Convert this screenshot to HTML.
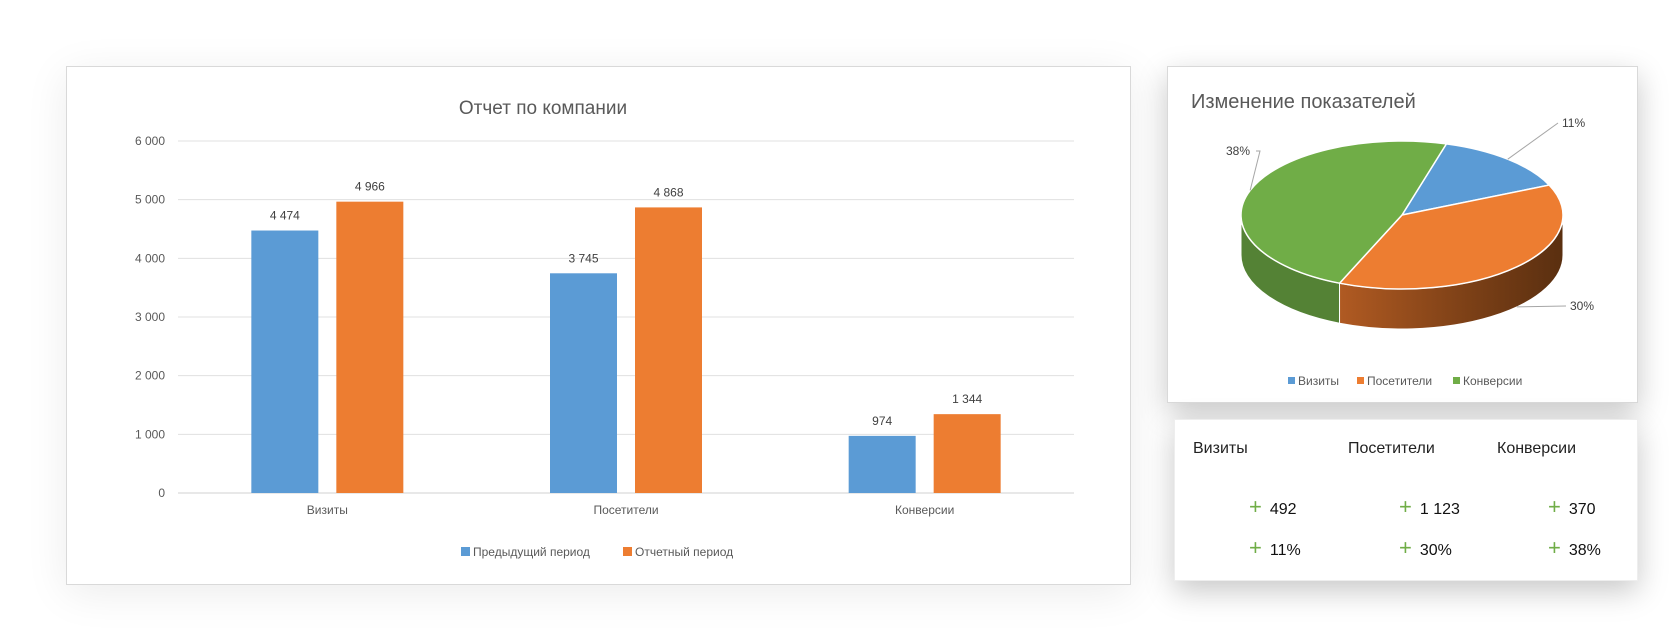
<!DOCTYPE html>
<html><head><meta charset="utf-8"><style>
html,body{margin:0;padding:0;background:#fff;width:1680px;height:640px;overflow:hidden;font-family:"Liberation Sans",sans-serif}
.panel{position:absolute;background:#fff;border:1px solid #d9d9d9;box-shadow:0 10px 28px rgba(0,0,0,0.22)}
svg text{font-family:"Liberation Sans",sans-serif}
.cell{position:absolute;font-size:16px;color:#111;white-space:nowrap}
.cell span{color:#70ad47;font-size:22px;margin-right:8px}
</style></head><body>
<div class="panel" style="left:66px;top:66px;width:1063px;height:517px;box-shadow:0 8px 40px rgba(0,0,0,0.08)"></div>
<div class="panel" style="left:1167px;top:66px;width:469px;height:335px"></div>
<div class="panel" style="left:1174px;top:419px;width:462px;height:160px;border-color:#eee"></div>
<svg id="c" width="1680" height="640" style="position:absolute;left:0;top:0"></svg>
<div style="position:absolute;left:0;top:0">
<div style="position:absolute;left:1193px;top:440px;font-size:16px;color:#222">Визиты</div>
<div style="position:absolute;left:1348px;top:440px;font-size:16px;color:#222">Посетители</div>
<div style="position:absolute;left:1497px;top:440px;font-size:16px;color:#222">Конверсии</div>
<div class="cell" style="left:1249px;top:494px"><span>+</span>492</div>
<div class="cell" style="left:1399px;top:494px"><span>+</span>1 123</div>
<div class="cell" style="left:1548px;top:494px"><span>+</span>370</div>
<div class="cell" style="left:1249px;top:535px"><span>+</span>11%</div>
<div class="cell" style="left:1399px;top:535px"><span>+</span>30%</div>
<div class="cell" style="left:1548px;top:535px"><span>+</span>38%</div>
</div>
<script>
const categories=["Визиты","Посетители","Конверсии"];
const prevValues=[4474,3745,974];
const currValues=[4966,4868,1344];
const valueLabels=[["4 474","4 966"],["3 745","4 868"],["974","1 344"]];
const yTicks=[0,1000,2000,3000,4000,5000,6000];
const yTickLabels=["0","1 000","2 000","3 000","4 000","5 000","6 000"];
const pieLabels=["Визиты","Посетители","Конверсии"];
const pieValues=[11,30,38];
const pieValueLabels=["11%","30%","38%"];

const svg=document.getElementById('c');
const NS='http://www.w3.org/2000/svg';
function mk(tag,attrs,parent){const e=document.createElementNS(NS,tag);for(const k in attrs)e.setAttribute(k,attrs[k]);(parent||svg).appendChild(e);return e;}
function tx(x,y,s,attrs){const e=mk('text',Object.assign({x:x,y:y},attrs));e.textContent=s;return e;}

// bar chart
const X0=178,X1=1074,Y0=493,Y6=141,YMAX=6000;
const y=v=>Y0-(v/YMAX)*(Y0-Y6);
const bandW=(X1-X0)/categories.length;
const cx=i=>X0+bandW*(i+0.5);
let t=tx(543,114,"Отчет по компании",{'font-size':19,fill:'#595959','text-anchor':'middle'});


yTicks.forEach((v,i)=>{
  const g=mk('line',{x1:X0,x2:X1,y1:y(v),y2:y(v),stroke:i===0?'#d0d0d0':'#e0e0e0','stroke-width':1});
  
  
  const l=tx(165,y(v)+4,yTickLabels[i],{'font-size':12,fill:'#595959','text-anchor':'end'});
  
  
});
const BW=67,GAP=18;
categories.forEach((c,i)=>{
  const bx1=cx(i)-GAP/2-BW, bx2=cx(i)+GAP/2;
  const b1=mk('rect',{x:bx1,y:y(prevValues[i]),width:BW,height:Y0-y(prevValues[i]),fill:'#5b9bd5'});
  
  
  const b2=mk('rect',{x:bx2,y:y(currValues[i]),width:BW,height:Y0-y(currValues[i]),fill:'#ed7d31'});
  
  
  const l1=tx(bx1+BW/2,y(prevValues[i])-11,valueLabels[i][0],{'font-size':12,fill:'#404040','text-anchor':'middle'});
  
  
  const l2=tx(bx2+BW/2,y(currValues[i])-11,valueLabels[i][1],{'font-size':12,fill:'#404040','text-anchor':'middle'});
  
  
  const cl=tx(cx(i),514,c,{'font-size':12,fill:'#595959','text-anchor':'middle'});
  
  
});
let r=mk('rect',{x:461,y:547,width:9,height:9,fill:'#5b9bd5'});


t=tx(473,556,"Предыдущий период",{'font-size':12,fill:'#595959'});


r=mk('rect',{x:623,y:547,width:9,height:9,fill:'#ed7d31'});


t=tx(635,556,"Отчетный период",{'font-size':12,fill:'#595959'});



// pie chart
t=tx(1191,108,"Изменение показателей",{'font-size':20,fill:'#595959'});


const PX=1402,PY=215,RX=161,RY=74,D=40,START=16;
const colors=['#5b9bd5','#ed7d31','#70ad47'];
const sideCols=['#41719c','url(#os)','#548235'];
const defs=mk('defs',{});
const lg=mk('linearGradient',{id:'os',x1:0,x2:1,y1:0,y2:0},defs);
mk('stop',{offset:'0','stop-color':'#b05a22'},lg);
mk('stop',{offset:'0.6','stop-color':'#7a3f16'},lg);
mk('stop',{offset:'1','stop-color':'#5a2f10'},lg);
const pt=(a,dy)=>{const r=a*Math.PI/180;return [PX+RX*Math.sin(r),PY-RY*Math.cos(r)+(dy||0)];};
const total=pieValues.reduce((a,b)=>a+b,0);
const ang=[];let a=START;
pieValues.forEach(v=>{const s=a;a+=v/total*360;ang.push([s,a]);});
ang.forEach(([s,e],i)=>{
  const ss=Math.max(s,90),ee=Math.min(e,270);
  if(ee<=ss)return;
  const p1=pt(ss),p2=pt(ee);
  const d=`M${p1[0]},${p1[1]} A${RX},${RY} 0 0 1 ${p2[0]},${p2[1]} L${p2[0]},${p2[1]+D} A${RX},${RY} 0 0 0 ${p1[0]},${p1[1]+D} Z`;
  const s1=mk('path',{d:d,fill:sideCols[i],stroke:'#fff','stroke-width':1});
  
  
});
ang.forEach(([s,e],i)=>{
  const p1=pt(s),p2=pt(e);
  const large=(e-s)>180?1:0;
  const sl=mk('path',{d:`M${PX},${PY} L${p1[0]},${p1[1]} A${RX},${RY} 0 ${large} 1 ${p2[0]},${p2[1]} Z`,fill:colors[i],stroke:'#fff','stroke-width':1.5,'stroke-linejoin':'round'});
  
  
});
const labelPos=[[1562,127,'start'],[1570,310,'start'],[1230,155,'start']];
ang.forEach(([s,e],i)=>{
  const m=(s+e)/2;const dy=(m>90&&m<270)?D:0;const p=pt(m,dy);
  const [lx,ly,anc]=labelPos[i];
  const ex=i===2?lx+30:lx-4;
  const ln=mk('polyline',{points:`${p[0]},${p[1]} ${ex},${ly-4} ${i===2?ex-4:lx-4},${ly-4}`,fill:'none',stroke:'#a6a6a6','stroke-width':1});
  
  
  const lb=tx(i===2?lx-4:lx,ly,pieValueLabels[i],{'font-size':12,fill:'#404040','text-anchor':anc});
  
  
});
const legX=[1288,1357,1453];
pieLabels.forEach((l,i)=>{
  const sq=mk('rect',{x:legX[i],y:377,width:7,height:7,fill:colors[i]});
  
  
  const lt=tx(legX[i]+10,385,l,{'font-size':12,fill:'#595959'});
  
  
});
</script>
</body></html>
